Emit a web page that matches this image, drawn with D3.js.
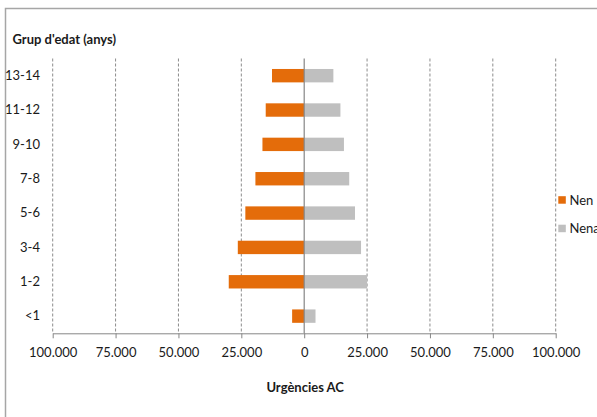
<!DOCTYPE html>
<html><head><meta charset="utf-8">
<script src="https://cdn.jsdelivr.net/npm/d3@7"></script>
<style>
html,body{margin:0;padding:0;background:#fff;}
svg{display:block;font-family:Lato,"Liberation Sans",sans-serif;}
</style></head>
<body><svg id="c" width="597" height="417"></svg>
<script>
const categories = ["13-14","11-12","9-10","7-8","5-6","3-4","1-2","<1"];
const nen  = [12800, 15300, 16600, 19400, 23400, 26400, 30000, 4800];
const nena = [11600, 14400, 15800, 17900, 20200, 22600, 25000, 4500];
const xTicks = [-100000,-75000,-50000,-25000,0,25000,50000,75000,100000];
const seriesNames = ["Nen","Nena"];
const colors = ["#e46c0a","#bfbfbf"];
const yTitle = "Grup d'edat (anys)";
const xTitle = "Urgències AC";

const svg = d3.select("#c");
// chart area border
svg.append("rect").attr("x",5.5).attr("y",8.5).attr("width",700).attr("height",500)
  .attr("fill","#fff").attr("stroke","#a6a6a6").attr("stroke-width",1.5);

const x = d3.scaleLinear().domain([-100000,100000]).range([52.7,555.7]);
const y = d3.scaleBand().domain(categories).range([58.5,333.3]).padding(0);
const plotTop = 58.5, plotBottom = 333.3;
const fmt = v => v===0 ? "0" : d3.format(",")(Math.abs(v)).replace(/,/g,".");

// gridlines
svg.append("g").selectAll("line").data(xTicks.filter(d=>d!==0)).join("line")
  .attr("x1",d=>x(d)).attr("x2",d=>x(d)).attr("y1",plotTop).attr("y2",plotBottom)
  .attr("stroke","#8c8c8c").attr("stroke-width",1).attr("stroke-dasharray","3,2");

// bars
const bh = y.bandwidth()*0.39;
const data = categories.map((c,i)=>({c, nen:nen[i], nena:nena[i]}));
svg.append("g").selectAll("rect").data(data).join("rect")
  .attr("x",d=>x(-d.nen)).attr("width",d=>x(0)-x(-d.nen))
  .attr("y",d=>y(d.c)+y.bandwidth()/2-bh/2).attr("height",bh).attr("fill",colors[0]);
svg.append("g").selectAll("rect").data(data).join("rect")
  .attr("x",x(0)).attr("width",d=>x(d.nena)-x(0))
  .attr("y",d=>y(d.c)+y.bandwidth()/2-bh/2).attr("height",bh).attr("fill",colors[1]);

// zero line
svg.append("line").attr("x1",x(0)).attr("x2",x(0)).attr("y1",plotTop).attr("y2",plotBottom)
  .attr("stroke","#868686").attr("stroke-width",1.2);

// x axis
const xAxis = d3.axisBottom(x).tickValues(xTicks).tickFormat(fmt).tickSizeInner(5).tickSizeOuter(0).tickPadding(9);
const gx = svg.append("g").attr("transform",`translate(0,${plotBottom})`).call(xAxis);
gx.select(".domain").attr("stroke","#868686");
gx.selectAll(".tick line").attr("stroke","#868686");
gx.selectAll("text").attr("font-size",13).attr("fill","#1a1a1a").attr("font-family","Lato,sans-serif");

// y labels
const yAxis = d3.axisLeft(y).tickSize(0).tickPadding(0);
const gy = svg.append("g").attr("transform","translate(40,0)").call(yAxis);
gy.select(".domain").remove();
gy.selectAll("text").attr("font-size",13).attr("fill","#1a1a1a").attr("font-family","Lato,sans-serif");

// titles
svg.append("text").attr("x",12.5).attr("y",44).attr("font-size",13).attr("font-weight","bold")
  .attr("fill","#1a1a1a").text(yTitle);
svg.append("text").attr("x",x(0)+1).attr("y",392).attr("text-anchor","middle").attr("font-size",13)
  .attr("font-weight","bold").attr("fill","#1a1a1a").text(xTitle);

// legend
const lg = svg.append("g");
seriesNames.forEach((s,i)=>{
  const cy = 200 + i*28.5;
  lg.append("rect").attr("x",558.3).attr("y",cy-3.8).attr("width",7.5).attr("height",7.5).attr("fill",colors[i]);
  lg.append("text").attr("x",569.5).attr("y",cy).attr("dy","0.35em").attr("font-size",13)
    .attr("fill","#1a1a1a").text(s);
});
</script></body></html>
